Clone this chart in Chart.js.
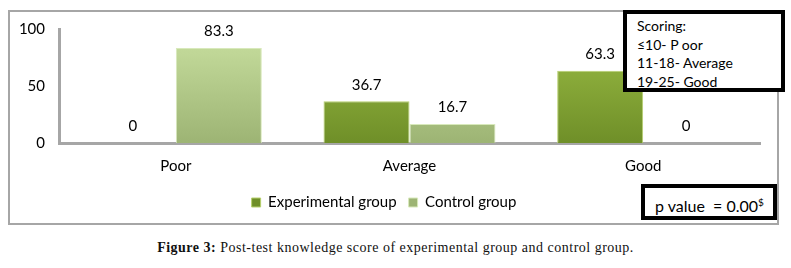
<!DOCTYPE html>
<html>
<head>
<meta charset="utf-8">
<script src="https://cdn.jsdelivr.net/npm/chart.js@4.4.0/dist/chart.umd.min.js"></script>
<style>
  body { margin: 0; background: #fff; width: 791px; height: 268px; position: relative; overflow: hidden; }
  #frame { position: absolute; left: 8px; top: 10px; width: 767px; height: 211px; border: 2px solid #a6a6a6; }
  #wrap { position: absolute; left: 0; top: 0; width: 791px; height: 230px; }
  .note { position: absolute; background: #fff; border: 4px solid #000; font-family: Lato, "Open Sans", sans-serif; font-size: 14px; color: #000; overflow: hidden; }
  #scoring { left: 623px; top: 10px; width: 144px; height: 71px; padding: 3px 0 0 10px; line-height: 18.5px; box-sizing: content-box; }
  #pval { left: 641px; top: 184px; width: 128px; height: 28px; }
  #pval span { position: absolute; left: 10px; top: 8px; font-size: 16px; white-space: pre; }
  #caption { position: absolute; left: 0; top: 240px; width: 791px; text-align: center; font-family: "Liberation Serif", serif; font-size: 14px; letter-spacing: 0.5px; color: #111; }
</style>
</head>
<body>
<div id="frame"></div>
<div id="wrap"><canvas id="chart" width="791" height="230"></canvas></div>
<div class="note" id="scoring">Scoring:<br>≤10- P oor<br>11-18- Average<br>19-25- Good</div>
<div class="note" id="pval"><span>p value  = 0.00<sup style="font-size:10px">$</sup></span></div>
<div id="caption"><b>Figure 3:</b> Post-test knowledge score of experimental group and control group.</div>
<script>
// knowledge level categories and percentages
const categories = ["Poor", "Average", "Good"];
const experimental = [0, 36.7, 63.3];
const control = [83.3, 16.7, 0];
const yTicks = [0, 50, 100];

function barFill(light, dark) {
  return function (ctx) {
    const area = ctx.chart.chartArea;
    if (!area) return dark;
    const g = ctx.chart.ctx.createLinearGradient(0, area.top, 0, area.bottom);
    g.addColorStop(0, light);
    g.addColorStop(1, dark);
    return g;
  };
}

// value labels above the bars
const valueLabels = {
  id: 'valueLabels',
  afterDatasetsDraw(chart) {
    const c = chart.ctx;
    c.save();
    c.font = '15px Lato, "Open Sans", sans-serif';
    c.fillStyle = '#000';
    c.textAlign = 'center';
    c.textBaseline = 'bottom';
    chart.data.datasets.forEach((ds, i) => {
      chart.getDatasetMeta(i).data.forEach((bar, j) => {
        c.fillText(String(ds.data[j]), bar.x, bar.y - 9);
      });
    });
    c.restore();
  }
};

new Chart(document.getElementById('chart').getContext('2d'), {
  type: 'bar',
  data: {
    labels: categories,
    datasets: [{
      label: 'Experimental group',
      data: experimental,
      backgroundColor: barFill('#9cbd46', '#6f8f28'),
      borderColor: '#b7d06e',
      borderWidth: 1
    }, {
      label: 'Control group',
      data: control,
      backgroundColor: barFill('#c9e0a0', '#9db474'),
      borderColor: '#d8e9bb',
      borderWidth: 1
    }]
  },
  options: {
    responsive: false,
    animation: false,
    layout: { padding: { left: 8, right: 31, top: 29, bottom: 10 } },
    datasets: { bar: { barPercentage: 1, categoryPercentage: 0.736 } },
    plugins: {
      tooltip: { enabled: false },
      legend: {
        position: 'bottom',
        labels: {
          boxWidth: 9, boxHeight: 9, padding: 12,
          color: '#000',
          font: { family: 'Lato, "Open Sans", sans-serif', size: 15 }
        }
      }
    },
    scales: {
      x: {
        grid: { display: false, drawTicks: false },
        border: { color: '#a6a6a6', width: 3 },
        ticks: { color: '#000', padding: 14, font: { family: 'Lato, "Open Sans", sans-serif', size: 15 } },
        afterFit(s) { s.height = 40; }
      },
      y: {
        min: 0, max: 100,
        afterBuildTicks(s) { s.ticks = yTicks.map(v => ({ value: v })); },
        grid: { display: false, drawTicks: false },
        border: { color: '#a6a6a6', width: 3 },
        ticks: { color: '#000', padding: 14, font: { family: 'Lato, "Open Sans", sans-serif', size: 15 } },
        afterFit(s) { s.width = 51; }
      }
    }
  },
  plugins: [valueLabels]
});
</script>
</body>
</html>
